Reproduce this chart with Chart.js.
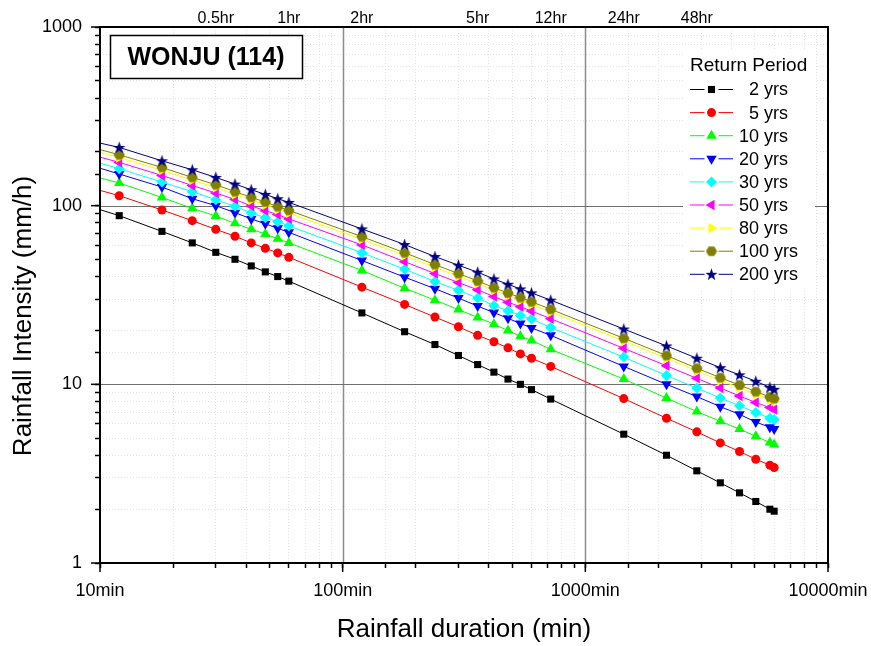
<!DOCTYPE html>
<html>
<head>
<meta charset="utf-8">
<script src="https://cdn.jsdelivr.net/npm/chart.js@4.4.0/dist/chart.umd.min.js"></script>
<style>
    html, body { margin: 0; padding: 0; background: #fff; }
</style>
</head>
<body>
<canvas id="idfChart" width="871" height="646"></canvas>
<script>
// rainfall durations (min), first one is only where the fitted line starts
var durations = [10, 12, 18, 24, 30, 36, 42, 48, 54, 60,
    120, 180, 240, 300, 360, 420, 480, 540, 600, 720,
    1440, 2160, 2880, 3600, 4320, 5040, 5760, 6000];

var yrs2 = [95, 87.9, 71.8, 61.9, 54.8, 50.1, 46.0, 42.6, 40.1, 37.8,
    25.1, 19.7, 16.7, 14.5, 12.9, 11.7, 10.7, 10.0, 9.34, 8.27,
    5.26, 4.01, 3.28, 2.81, 2.47, 2.21, 2.00, 1.95];
var yrs5 = [121.8, 113.7, 94.6, 82.4, 73.7, 67.4, 61.9, 57.7, 54.4, 51.4,
    35.0, 28.0, 23.8, 21.0, 18.8, 17.3, 16.0, 14.8, 14.0, 12.6,
    8.32, 6.46, 5.42, 4.70, 4.21, 3.81, 3.53, 3.42];
var yrs10 = [143, 133.9, 111.2, 96.6, 87.5, 79.6, 73.7, 69.5, 65.2, 61.9,
    43.4, 34.5, 29.6, 26.2, 23.7, 21.7, 20.0, 18.6, 17.6, 15.7,
    10.7, 8.38, 7.04, 6.21, 5.62, 5.12, 4.72, 4.60];
var yrs20 = [162, 150.4, 127.1, 109.4, 100, 91.4, 84.3, 79.1, 74.7, 70.9,
    49.3, 39.8, 34.3, 30.4, 27.4, 25.2, 23.4, 21.9, 20.7, 18.8,
    12.6, 10.0, 8.54, 7.50, 6.79, 6.15, 5.75, 5.62];
var yrs30 = [173, 161, 135.6, 119.7, 108.0, 99.1, 91.0, 85.7, 81.4, 77.1,
    54.5, 44.1, 37.6, 33.6, 30.4, 27.6, 25.8, 24.3, 23.2, 20.8,
    14.2, 11.2, 9.53, 8.38, 7.60, 6.95, 6.46, 6.35];
var yrs50 = [187, 174.7, 147.6, 129.7, 117.7, 108.4, 99.6, 93.8, 89.1, 84.3,
    60.3, 48.6, 41.7, 37.1, 33.8, 31.0, 28.8, 27.2, 25.7, 23.3,
    15.9, 12.7, 10.8, 9.53, 8.61, 7.91, 7.41, 7.22];
var yrs80 = [199, 185.9, 158.0, 138.9, 126.4, 115.6, 107.4, 101.2, 95.2, 90.8,
    64.8, 52.6, 45.2, 40.2, 36.6, 33.6, 31.3, 29.5, 28.0, 25.4,
    17.5, 14.0, 11.9, 10.5, 9.56, 8.78, 8.19, 8.03];
var yrs100 = [206, 192.6, 163.7, 143.9, 131.0, 119.8, 111.3, 104.9, 98.7, 94.1,
    67.1, 54.5, 46.8, 41.7, 37.9, 34.8, 32.4, 30.6, 29.0, 26.3,
    18.1, 14.5, 12.3, 10.9, 9.91, 9.10, 8.49, 8.32];
var yrs200 = [224, 211.8, 178.3, 158.8, 143.9, 132.1, 122.8, 115.6, 109.4, 104.3,
    74.1, 60.6, 51.9, 46.4, 42.4, 38.9, 36.3, 34.2, 32.5, 29.6,
    20.4, 16.4, 14.0, 12.4, 11.3, 10.4, 9.62, 9.38];

var seriesLabels = ['  2 yrs', '  5 yrs', '10 yrs', '20 yrs', '30 yrs', '50 yrs', '80 yrs', '100 yrs', '200 yrs'];
var seriesValues = [yrs2, yrs5, yrs10, yrs20, yrs30, yrs50, yrs80, yrs100, yrs200];

// top axis (hours)
var topTickMins = [30, 60, 120, 360, 720, 1440, 2880];
var topTickLabels = ['0.5hr', '1hr', '2hr', '5hr', '12hr', '24hr', '48hr'];

var FONT = "'Liberation Sans', Arial, sans-serif";

function hexagonMarker(color) {
    var c = document.createElement('canvas');
    c.width = 12; c.height = 12;
    var g = c.getContext('2d');
    g.fillStyle = color;
    g.beginPath();
    for (var k = 0; k < 6; k++) {
        var a = Math.PI / 3 * k;
        var px = 6 + 5.6 * Math.cos(a), py = 6 + 5.6 * Math.sin(a);
        if (k === 0) g.moveTo(px, py); else g.lineTo(px, py);
    }
    g.closePath();
    g.fill();
    return c;
}

function starMarker(color) {
    var c = document.createElement('canvas');
    c.width = 13; c.height = 13;
    var g = c.getContext('2d');
    g.fillStyle = color;
    g.beginPath();
    for (var k = 0; k < 10; k++) {
        var r = k % 2 === 0 ? 6.4 : 2.6;
        var a = -Math.PI / 2 + Math.PI / 5 * k;
        var px = 6.5 + r * Math.cos(a), py = 7 + r * Math.sin(a);
        if (k === 0) g.moveTo(px, py); else g.lineTo(px, py);
    }
    g.closePath();
    g.fill();
    return c;
}

var styles = [
    {color: '#000000', point: 'rect', rotation: 0, radius: 5},
    {color: '#ff0000', point: 'circle', rotation: 0, radius: 4.5},
    {color: '#00ff00', point: 'triangle', rotation: 0, radius: 6},
    {color: '#0000ff', point: 'triangle', rotation: 180, radius: 6},
    {color: '#00ffff', point: 'rectRot', rotation: 0, radius: 5.5},
    {color: '#ff00ff', point: 'triangle', rotation: 270, radius: 6},
    {color: '#ffff00', point: 'triangle', rotation: 90, radius: 6},
    {color: '#808000', point: hexagonMarker('#808000'), rotation: 0, radius: 5},
    {color: '#000080', point: starMarker('#000080'), rotation: 0, radius: 5}
];

var datasets = seriesValues.map(function (vals, i) {
    return {
        label: seriesLabels[i],
        data: vals.map(function (v, j) { return {x: durations[j], y: v}; }),
        borderColor: styles[i].color,
        backgroundColor: styles[i].color,
        borderWidth: 1,
        pointStyle: styles[i].point,
        pointRotation: styles[i].rotation,
        pointRadius: function (ctx) { return ctx.dataIndex === 0 ? 0 : styles[i].radius; },
        pointBorderWidth: 0,
        pointBackgroundColor: styles[i].color,
        tension: 0,
        order: 8 - i
    };
});

function isDecade(v) {
    var l = Math.log10(v);
    return Math.abs(l - Math.round(l)) < 1e-6;
}

var extras = {
    id: 'extras',
    beforeDatasetsDraw: function (chart) {
        var ctx = chart.ctx, a = chart.chartArea;
        var xs = chart.scales.x, ys = chart.scales.y;
        ctx.save();
        ctx.strokeStyle = '#8c8c8c';
        ctx.lineWidth = 1.5;
        [100, 1000].forEach(function (v) {
            var px = Math.round(xs.getPixelForValue(v)) + 0.5;
            ctx.beginPath(); ctx.moveTo(px, a.top); ctx.lineTo(px, a.bottom); ctx.stroke();
        });
        ctx.strokeStyle = '#707070';
        ctx.lineWidth = 1.2;
        [10, 100].forEach(function (v) {
            var py = Math.round(ys.getPixelForValue(v)) + 0.5;
            ctx.beginPath(); ctx.moveTo(a.left, py); ctx.lineTo(a.right, py); ctx.stroke();
        });
        // longer tick marks at the decades
        ctx.strokeStyle = '#000';
        ctx.lineWidth = 1.5;
        [10, 100, 1000, 10000].forEach(function (v) {
            var px = xs.getPixelForValue(v);
            ctx.beginPath(); ctx.moveTo(px, a.bottom); ctx.lineTo(px, a.bottom + 9); ctx.stroke();
        });
        [1, 10, 100, 1000].forEach(function (v) {
            var py = ys.getPixelForValue(v);
            ctx.beginPath(); ctx.moveTo(a.left - 9, py); ctx.lineTo(a.left, py); ctx.stroke();
        });
        ctx.restore();
    },
    afterDatasetsDraw: function (chart) {
        var ctx = chart.ctx, a = chart.chartArea;
        ctx.save();

        // station name box
        ctx.fillStyle = '#fff';
        ctx.fillRect(a.left + 10, a.top + 8, 192, 43);
        ctx.strokeStyle = '#000';
        ctx.lineWidth = 1.5;
        ctx.strokeRect(a.left + 10.5, a.top + 8.5, 192, 43);
        ctx.fillStyle = '#000';
        ctx.font = 'bold 25px ' + FONT;
        ctx.textAlign = 'center';
        ctx.textBaseline = 'middle';
        ctx.fillText('WONJU (114)', a.left + 106, a.top + 31);

        // legend
        var lx = a.right - 145, ly = a.top + 22;
        ctx.fillStyle = '#fff';
        ctx.fillRect(lx, ly, 132, 240);
        ctx.fillStyle = '#000';
        ctx.textAlign = 'left';
        ctx.font = '19px ' + FONT;
        ctx.fillText('Return Period', a.right - 138, a.top + 39);
        ctx.font = '18px ' + FONT;
        seriesLabels.forEach(function (lab, i) {
            var y = a.top + 62.5 + i * 23.1;
            var x0 = a.right - 138, x1 = a.right - 95, xm = (x0 + x1) / 2;
            var s = styles[i];
            ctx.strokeStyle = s.color;
            ctx.lineWidth = 1;
            ctx.beginPath(); ctx.moveTo(x0, y); ctx.lineTo(xm - 7, y); ctx.stroke();
            ctx.beginPath(); ctx.moveTo(xm + 7, y); ctx.lineTo(x1, y); ctx.stroke();
            ctx.fillStyle = s.color;
            Chart.helpers.drawPoint(ctx, {pointStyle: s.point, rotation: s.rotation, radius: s.radius, borderWidth: 0}, xm, y);
            ctx.fillStyle = '#000';
            ctx.fillText(lab, a.right - 89, y + 1);
        });

        // frame
        ctx.strokeStyle = '#000';
        ctx.lineWidth = 2;
        ctx.strokeRect(a.left, a.top, a.right - a.left, a.bottom - a.top);

        // y title
        ctx.translate(24, 316);
        ctx.rotate(-Math.PI / 2);
        ctx.font = '26px ' + FONT;
        ctx.textAlign = 'center';
        ctx.fillText('Rainfall Intensity (mm/h)', 0, 0);
        ctx.restore();
    }
};

new Chart(document.getElementById('idfChart'), {
    type: 'line',
    data: {datasets: datasets},
    options: {
        responsive: false,
        animation: false,
        events: [],
        layout: {padding: {left: 0, right: 43, top: 0, bottom: 0}},
        plugins: {legend: {display: false}, tooltip: {enabled: false}},
        scales: {
            x: {
                type: 'logarithmic',
                position: 'bottom',
                min: 10,
                max: 10000,
                border: {display: false, dash: [1, 2]},
                grid: {
                    color: function (c) { return c.tick && !isDecade(c.tick.value) ? '#e3e3e3' : 'rgba(0,0,0,0)'; },
                    tickColor: '#000',
                    tickLength: 5,
                    tickWidth: 1.5
                },
                ticks: {
                    autoSkip: false,
                    maxRotation: 0,
                    padding: 12,
                    color: '#000',
                    font: {family: FONT, size: 18},
                    callback: function (v) { return isDecade(v) ? v + 'min' : ''; }
                },
                title: {
                    display: true,
                    text: 'Rainfall duration (min)',
                    color: '#000',
                    font: {family: FONT, size: 26},
                    padding: {top: 0, bottom: 1}
                },
                afterFit: function (s) { s.height = 83; s.paddingLeft = 0; s.paddingRight = 0; }
            },
            xTop: {
                type: 'logarithmic',
                position: 'top',
                min: 10,
                max: 10000,
                border: {display: false},
                grid: {display: false, drawTicks: false},
                afterBuildTicks: function (s) {
                    s.ticks = topTickMins.map(function (v) { return {value: v}; });
                },
                ticks: {
                    autoSkip: false,
                    maxRotation: 0,
                    padding: -1,
                    color: '#000',
                    font: {family: FONT, size: 16},
                    callback: function (v, idx) { return topTickLabels[idx]; }
                },
                afterFit: function (s) { s.height = 27; s.paddingLeft = 0; s.paddingRight = 0; }
            },
            y: {
                type: 'logarithmic',
                min: 1,
                max: 1000,
                border: {display: false, dash: [1, 2]},
                grid: {
                    color: function (c) { return c.tick && !isDecade(c.tick.value) ? '#e3e3e3' : 'rgba(0,0,0,0)'; },
                    tickColor: '#000',
                    tickLength: 5,
                    tickWidth: 1.5
                },
                ticks: {
                    autoSkip: false,
                    padding: 13,
                    color: '#000',
                    font: {family: FONT, size: 18},
                    callback: function (v) { return isDecade(v) ? String(v) : ''; }
                },
                afterFit: function (s) { s.width = 100; s.paddingTop = 0; s.paddingBottom = 0; }
            }
        }
    },
    plugins: [extras]
});
</script>
</body>
</html>
